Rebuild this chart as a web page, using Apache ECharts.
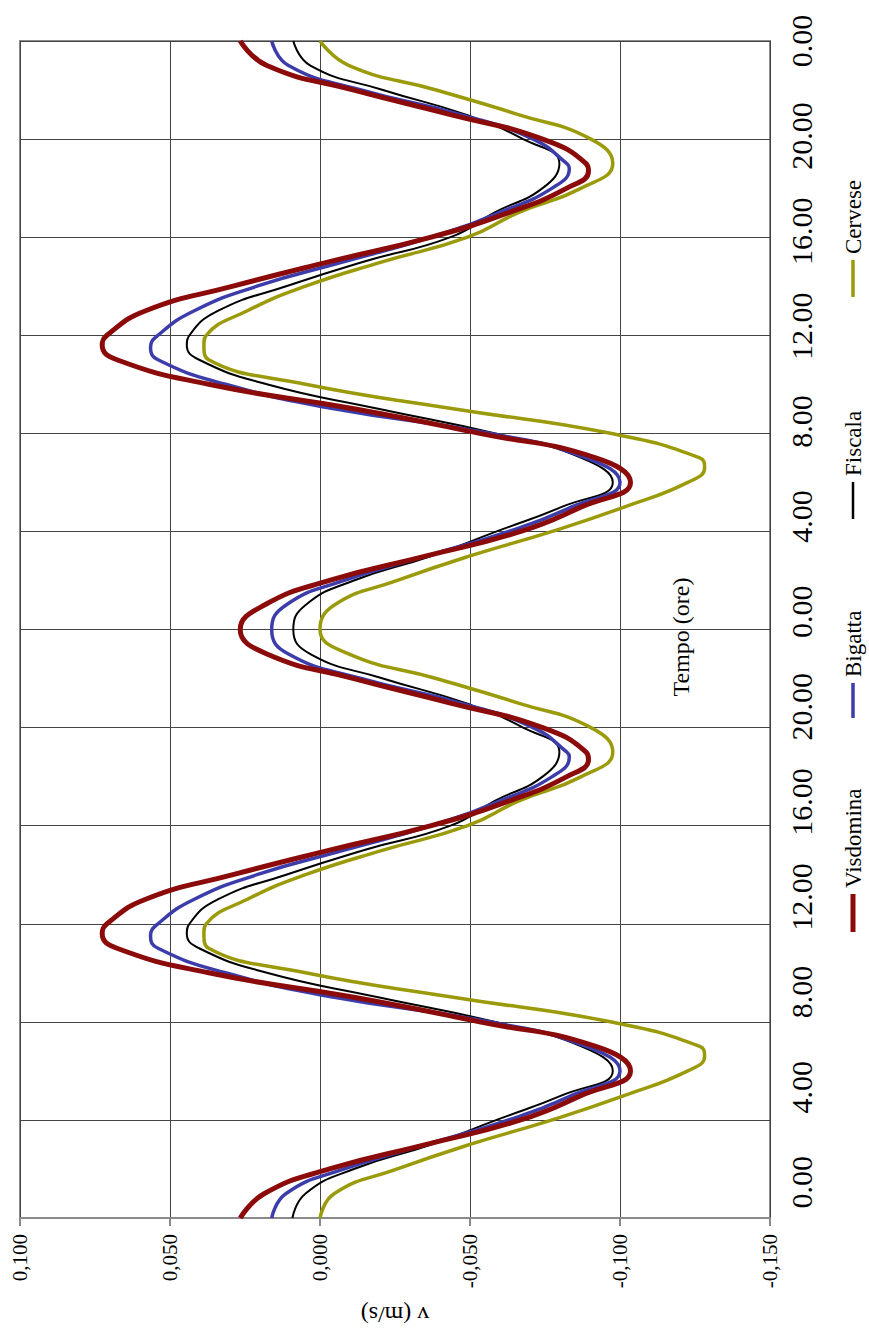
<!DOCTYPE html>
<html><head><meta charset="utf-8">
<script src="https://cdn.jsdelivr.net/npm/echarts@6/dist/echarts.min.js"></script>
<style>html,body{margin:0;padding:0;background:#fff}#c{width:869px;height:1332px}</style>
</head><body><div id="c"></div>
<script>
// Time axis ticks (hours over two days) and their labels
const timeTickValues = [0,4,8,12,16,20,24,28,32,36,40,44,48];
const timeTickLabels = ['0.00','4.00','8.00','12.00','16.00','20.00','0.00','4.00','8.00','12.00','16.00','20.00','0.00'];
const seriesNames = ['Visdomina','Bigatta','Fiscala','Cervese'];

// Visdomina: time (h) and v (m/s)
const visdominaHours = [0,1,2,3,4,5,6,7,8,9,10,11,11.6,12,13,14,15,16,17,18,18.7,19,20,21,22,23,24,
  25,26,27,28,29,30,31,32,33,34,35,35.6,36,37,38,39,40,41,42,42.7,43,44,45,46,47,48];
const visdomina = [0.0266,0.0185,-0.0032,-0.0355,-0.0669,-0.0871,-0.1035,-0.0919,-0.0532,-0.0113,0.0371,0.0677,0.0726,0.0710,0.0581,0.0290,-0.0032,-0.0371,-0.0629,-0.0823,-0.0895,-0.0887,-0.0742,-0.0435,-0.0113,0.0177,0.0266,
  0.0185,-0.0032,-0.0355,-0.0669,-0.0871,-0.1035,-0.0919,-0.0532,-0.0113,0.0371,0.0677,0.0726,0.0710,0.0581,0.0290,-0.0032,-0.0371,-0.0629,-0.0823,-0.0895,-0.0887,-0.0742,-0.0435,-0.0113,0.0177,0.0266];

// Bigatta
const bigattaHours = [0,1,2,3,4,5,6,7,8,9,10,11,11.5,12,13,14,15,16,17,18,18.8,19,20,21,22,23,24,
  25,26,27,28,29,30,31,32,33,34,35,35.5,36,37,38,39,40,41,42,42.8,43,44,45,46,47,48];
const bigatta = [0.0161,0.0113,-0.0081,-0.0355,-0.0629,-0.0839,-0.1000,-0.0887,-0.0565,-0.0048,0.0315,0.0540,0.0565,0.0540,0.0419,0.0210,-0.0081,-0.0371,-0.0597,-0.0774,-0.0831,-0.0823,-0.0710,-0.0468,-0.0137,0.0105,0.0161,
  0.0113,-0.0081,-0.0355,-0.0629,-0.0839,-0.1000,-0.0887,-0.0565,-0.0048,0.0315,0.0540,0.0565,0.0540,0.0419,0.0210,-0.0081,-0.0371,-0.0597,-0.0774,-0.0831,-0.0823,-0.0710,-0.0468,-0.0137,0.0105,0.0161];

// Fiscala
const fiscalaHours = [0,1,2,3,4,5,6,7,8,9,10,11,11.6,12,13,14,15,16,17,18,19,20,21,22,23,24,
  25,26,27,28,29,30,31,32,33,34,35,35.6,36,37,38,39,40,41,42,43,44,45,46,47,48];
const fiscala = [0.0092,0.0048,-0.0113,-0.0371,-0.0589,-0.0806,-0.0976,-0.0871,-0.0581,-0.0194,0.0177,0.0403,0.0444,0.0435,0.0339,0.0113,-0.0145,-0.0435,-0.0581,-0.0742,-0.0798,-0.0677,-0.0484,-0.0210,0.0032,0.0089,
  0.0048,-0.0113,-0.0371,-0.0589,-0.0806,-0.0976,-0.0871,-0.0581,-0.0194,0.0177,0.0403,0.0444,0.0435,0.0339,0.0113,-0.0145,-0.0435,-0.0581,-0.0742,-0.0798,-0.0677,-0.0484,-0.0210,0.0032,0.0089];

// Cervese
const cerveseHours = [0,1,2,3,4,5,6,6.6,7,8,9,10,11,11.6,12,13,14,15,16,17,18,19,20,21,22,23,24,
  25,26,27,28,29,30,30.6,31,32,33,34,35,35.6,36,37,38,39,40,41,42,43,44,45,46,47,48];
const cervese = [0.0000,-0.0048,-0.0258,-0.0500,-0.0774,-0.1016,-0.1226,-0.1282,-0.1266,-0.0968,-0.0444,0.0048,0.0371,0.0387,0.0379,0.0242,0.0048,-0.0210,-0.0492,-0.0661,-0.0871,-0.0976,-0.0903,-0.0661,-0.0387,-0.0097,0.0000,
  -0.0048,-0.0258,-0.0500,-0.0774,-0.1016,-0.1226,-0.1282,-0.1266,-0.0968,-0.0444,0.0048,0.0371,0.0387,0.0379,0.0242,0.0048,-0.0210,-0.0492,-0.0661,-0.0871,-0.0976,-0.0903,-0.0661,-0.0387,-0.0097,0.0000];

const colors = ['#8B0A0A','#3C3CAA','#000000','#9A9A0A'];
const widths = [5,3.5,2,3.5];
const serif = '"Liberation Serif","DejaVu Serif",serif';

const chart = echarts.init(document.getElementById('c'), null, {renderer:'svg'});
const allHours = [visdominaHours,bigattaHours,fiscalaHours,cerveseHours];
const allData = [visdomina,bigatta,fiscala,cervese];

const legendPos = [
  {m1:932,m2:894,t:888},
  {m1:718,m2:683,t:677},
  {m1:519,m2:482,t:476},
  {m1:297,m2:260,t:254}
];
const graphics = [];
seriesNames.forEach((n,i)=>{
  graphics.push({type:'line', shape:{x1:853,y1:legendPos[i].m1,x2:853,y2:legendPos[i].m2},
    style:{stroke:colors[i], lineWidth:Math.max(widths[i],2.5)}});
  graphics.push({type:'text', x:853, y:legendPos[i].t, rotation:Math.PI/2,
    style:{text:n, font:'23px '+serif, fill:'#000', textAlign:'left', textVerticalAlign:'middle', align:'left', verticalAlign:'middle'}});
});
graphics.push({type:'text', x:681, y:637, rotation:Math.PI/2,
  style:{text:'Tempo (ore)', font:'24px '+serif, fill:'#000', textAlign:'center', textVerticalAlign:'middle', align:'center', verticalAlign:'middle'}});

chart.setOption({
  animation:false,
  backgroundColor:'#fff',
  grid:{left:20,right:99,top:41,bottom:114,show:true,borderColor:'#8a8a8a',borderWidth:2,backgroundColor:'#fff'},
  xAxis:{type:'value',inverse:true,min:-0.15,max:0.1,interval:0.05,position:'bottom',
    name:'v (m/s)',nameLocation:'middle',nameRotate:180,nameGap:85,
    nameTextStyle:{fontFamily:serif,fontSize:24,color:'#000'},
    axisLine:{show:true,lineStyle:{color:'#8a8a8a',width:2}},
    axisTick:{show:true,length:8,lineStyle:{color:'#8a8a8a',width:2}},
    splitLine:{show:true,lineStyle:{color:'#444',width:1}},
    axisLabel:{rotate:90,margin:16,fontFamily:serif,fontSize:21,color:'#000',
      formatter:v=>{if(Math.abs(v)<1e-9)v=0;return v.toFixed(3).replace('.',',');}}
  },
  yAxis:[
    {type:'value',min:0,max:48,interval:4,position:'right',
      axisLine:{show:false},axisTick:{show:false},axisLabel:{show:false},
      splitLine:{show:true,lineStyle:{color:'#444',width:1}}},
    {type:'value',min:-1.5,max:48,position:'right',
      axisLine:{show:false},axisTick:{show:false},splitLine:{show:false},
      axisLabel:{customValues:timeTickValues,rotate:90,margin:16,fontFamily:serif,fontSize:30,color:'#000',
        formatter:v=>{const k=timeTickValues.indexOf(Math.round(v));return k>=0?timeTickLabels[k]:'';}}}
  ],
  graphic:graphics,
  series:seriesNames.map((n,i)=>({
    name:n,type:'line',yAxisIndex:0,showSymbol:false,smooth:0.5,
    lineStyle:{color:colors[i],width:widths[i]},itemStyle:{color:colors[i]},
    z:10-i,
    data:allHours[i].map((h,j)=>[allData[i][j],h])
  }))
});
</script></body></html>
